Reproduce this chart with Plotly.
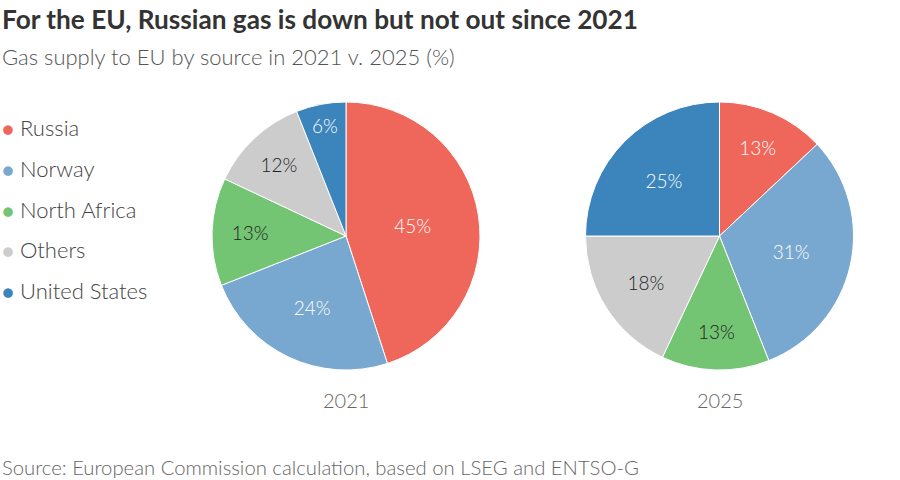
import plotly.graph_objects as go

categories = ["Russia", "Norway", "North Africa", "Others", "United States"]
share_2021 = [45, 24, 13, 12, 6]
share_2025 = [13, 31, 13, 18, 25]
years = ["2021", "2025"]
colors = ["#ef675b", "#78a8cf", "#73c473", "#cccccc", "#3b84bc"]
text_colors = ["#ffffff", "#ffffff", "#222222", "#222222", "#ffffff"]

FONT = "Lato"
W, H = 900, 480

fig = go.Figure()

domains = [
    dict(x=[212 / W, 480 / W], y=[1 - 370 / H, 1 - 102 / H]),
    dict(x=[585 / W, 854 / W], y=[1 - 370 / H, 1 - 102 / H]),
]

for vals, dom in zip([share_2021, share_2025], domains):
    fig.add_trace(go.Pie(
        labels=categories,
        values=vals,
        sort=False,
        direction="clockwise",
        rotation=0,
        domain=dom,
        marker=dict(colors=colors, line=dict(color="white", width=1)),
        textinfo="text",
        text=[f"{v}%" for v in vals],
        textposition="inside",
        insidetextorientation="horizontal",
        insidetextfont=dict(family=FONT, size=19, color=text_colors, weight=300),
        showlegend=False,
        hoverinfo="label+value",
    ))

annotations = []
# Year labels below pies
for yr, dom in zip(years, domains):
    annotations.append(dict(
        text=yr, x=(dom["x"][0] + dom["x"][1]) / 2, y=1 - 400 / H,
        xref="paper", yref="paper", showarrow=False,
        font=dict(family=FONT, size=20, color="#666666", weight=300),
        xanchor="center", yanchor="middle",
    ))

# Legend
for i, (cat, col) in enumerate(zip(categories, colors)):
    annotations.append(dict(
        text=f"<span style='color:{col};font-size:20px'>●</span> {cat}",
        x=0, y=1 - (128 + i * 40.5) / H,
        xref="paper", yref="paper", showarrow=False,
        font=dict(family=FONT, size=22, color="#444444", weight=300),
        xanchor="left", yanchor="middle",
    ))

# Title, subtitle, source
annotations.append(dict(
    text="<b>For the EU, Russian gas is down but not out since 2021</b>",
    x=0, y=1 - 19 / H, xref="paper", yref="paper", showarrow=False,
    font=dict(family=FONT, size=26.2, color="#333333"),
    xanchor="left", yanchor="middle",
))
annotations.append(dict(
    text="Gas supply to EU by source in 2021 v. 2025 (%)",
    x=0, y=1 - 56 / H, xref="paper", yref="paper", showarrow=False,
    font=dict(family=FONT, size=22, color="#555555", weight=300),
    xanchor="left", yanchor="middle",
))
annotations.append(dict(
    text="Source: European Commission calculation, based on LSEG and ENTSO-G",
    x=0, y=1 - 467 / H, xref="paper", yref="paper", showarrow=False,
    font=dict(family=FONT, size=20.3, color="#666666", weight=300),
    xanchor="left", yanchor="middle",
))

fig.update_layout(
    width=W, height=H,
    margin=dict(l=0, r=0, t=0, b=0),
    paper_bgcolor="white", plot_bgcolor="white",
    annotations=annotations,
    font=dict(family=FONT),
)

fig.write_html("out.html", config={"displayModeBar": False},
               post_script="document.body.style.margin='0';")
